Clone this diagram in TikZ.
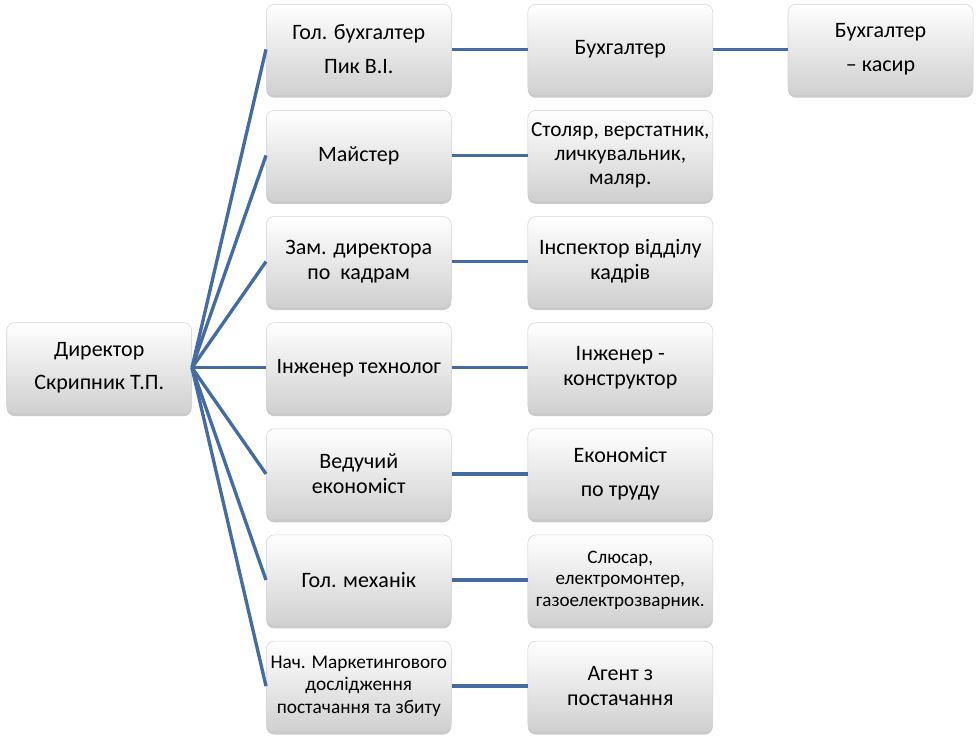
\documentclass[tikz,border=0pt]{standalone}
\usepackage{fontspec}
\setmainfont{Carlito}
\usetikzlibrary{positioning}
\usetikzlibrary{shadows}

\definecolor{linkblue}{RGB}{68,108,163}
\definecolor{boxgray}{RGB}{208,208,208}
\definecolor{boxedge}{RGB}{212,212,212}

\tikzset{
  orgbox/.style={rounded corners=6pt, draw=boxedge, line width=0.4pt,
    top color=white, bottom color=boxgray,
    minimum width=138.75pt, minimum height=67.6pt, inner xsep=0.5pt, inner ysep=1pt,
    align=center, font=\fontsize{16.5}{18.75}\selectfont,
    drop shadow={shadow xshift=0pt, shadow yshift=-2.5pt, opacity=0.35, fill=black!60}},
  smalltext/.style={font=\fontsize{14.5}{17}\selectfont},
  link/.style={draw=linkblue, line width=2.5pt}
}

\begin{document}
\begin{tikzpicture}
        \useasboundingbox (0,0) rectangle (735pt,-561pt);
        %% second level
        \node[orgbox,anchor=north west] (g1) at (199.5pt,-3pt) {Гол. бухгалтер\\[6.5pt]Пик В.І.};
        \node[orgbox,below=11.6pt of g1] (g2) {Майстер};
        \node[orgbox,below=11.6pt of g2] (g3) {Зам. директора\\по\ \ кадрам};
        \node[orgbox,below=11.6pt of g3] (g4) {Інженер технолог};
        \node[orgbox,below=11.6pt of g4] (g5) {Ведучий\\економіст};
        \node[orgbox,below=11.6pt of g5] (g6) {Гол. механік};
        \node[orgbox,below=11.6pt of g6,smalltext] (g7) {Нач. Маркетингового\\дослідження\\постачання та збиту};
        % director
        \node[orgbox,left=55.5pt of g4] (dir) {Директор\\[6.5pt]Скрипник Т.П.};
        %% third level
        \node[orgbox,right=57pt of g1] (s1) {Бухгалтер};
        \node[orgbox,right=57pt of g2,font=\fontsize{16}{18}\selectfont] (s2) {Столяр, верстатник,\\личкувальник,\\маляр.};
        \node[orgbox,right=57pt of g3] (s3) {Інспектор відділу\\кадрів};
        \node[orgbox,right=57pt of g4] (s4) {Інженер -\\конструктор};
        \node[orgbox,right=57pt of g5] (s5) {Економіст\\[6.5pt]по труду};
        \node[orgbox,right=57pt of g6,font=\fontsize{14.3}{16.2}\selectfont] (s6) {Слюсар,\\електромонтер,\\газоелектрозварник.};
        \node[orgbox,right=57pt of g7] (s7) {Агент з\\постачання};
        \node[orgbox,right=56pt of s1] (k1) {Бухгалтер\\[6.5pt]– касир};
        % connections
        \foreach \i in {1,...,7}{
            \draw[link] (dir.east) -- (g\i.west);
            \draw[link] (g\i.east) -- (s\i.west);
        }
        \draw[link] (s1.east) -- (k1.west);
\end{tikzpicture}
\end{document}
